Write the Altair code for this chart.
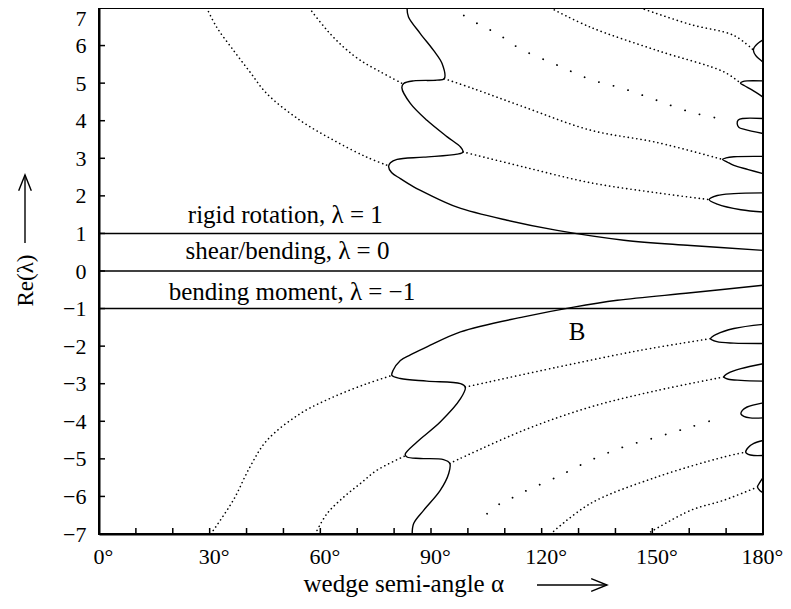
import altair as alt
import pandas as pd

FONT = "Liberation Serif"

# ---------------- axis ticks / labels ----------------
x_minor = list(range(0, 181, 10))
x_labels = [0, 30, 60, 90, 120, 150, 180]
y_ticks = list(range(-7, 8))

# ---------------- horizontal reference lines ----------------
ref_lambda = [1, 0, -1]

# ---------------- solid curves (alpha in degrees, Re(lambda)) ----------------
upper_main_a = [83.5, 83.9, 87.1, 90.7, 93.0, 93.6, 91.6, 85.3, 82.6, 82.1, 84.4, 88.9, 94.4, 98.0, 98.7,
                97.1, 88.0, 80.8, 79.0, 78.5, 79.3, 81.7, 85.3, 88.9, 97.1, 110.6, 124.2, 142.3, 160.4, 180.0]
upper_main_l = [7.0, 6.76, 6.32, 5.87, 5.52, 5.12, 5.08, 5.06, 4.99, 4.88, 4.46, 4.01, 3.57, 3.30, 3.17,
                3.11, 3.03, 2.97, 2.88, 2.78, 2.62, 2.46, 2.24, 2.06, 1.70, 1.35, 1.08, 0.82, 0.68, 0.55]

lower_main_a = [180.0, 160.4, 140.5, 128.7, 115.1, 98.0, 88.9, 84.4, 81.7, 79.7, 79.4, 81.7, 88.9, 98.0,
                99.3, 98.0, 92.5, 86.2, 83.0, 83.5, 87.1, 93.4, 95.1, 94.8, 92.5, 88.0, 85.3, 84.9]
lower_main_l = [-0.38, -0.58, -0.78, -0.96, -1.22, -1.62, -2.02, -2.23, -2.38, -2.65, -2.78, -2.86, -2.93,
                -3.00, -3.09, -3.40, -4.02, -4.55, -4.88, -4.95, -4.99, -5.02, -5.12, -5.39, -5.84, -6.37,
                -6.72, -7.0]

loop_u2_a = [180, 172.1, 167.6, 165.4, 167.6, 174.0, 180]
loop_u2_l = [2.08, 2.06, 2.01, 1.90, 1.78, 1.63, 1.57]
loop_u3_a = [180, 172.1, 170.0, 169.0, 170.3, 172.1, 176.0, 180]
loop_u3_l = [3.05, 3.04, 3.01, 2.97, 2.90, 2.81, 2.70, 2.59]
loop_u4_a = [180, 174.5, 173.3, 173.0, 173.5, 175.0, 180]
loop_u4_l = [4.06, 4.06, 4.02, 3.92, 3.82, 3.77, 3.66]
loop_u5_a = [180, 175.7, 174.5, 173.9, 175.0, 177.0, 180]
loop_u5_l = [5.06, 5.06, 5.04, 5.00, 4.93, 4.82, 4.63]
loop_u6_a = [180, 178.5, 177.6, 177.4, 178.0, 179.0, 180]
loop_u6_l = [6.15, 6.05, 5.95, 5.87, 5.74, 5.64, 5.56]

loop_l2_a = [180, 172.1, 167.5, 165.8, 167.5, 172.1, 180]
loop_l2_l = [-1.42, -1.53, -1.68, -1.80, -1.88, -1.92, -1.93]
loop_l3_a = [180, 174.0, 170.6, 169.4, 170.6, 174.0, 180]
loop_l3_l = [-2.47, -2.60, -2.72, -2.82, -2.88, -2.91, -2.93]
loop_l4_a = [180, 175.7, 174.4, 174.0, 174.8, 176.5, 180]
loop_l4_l = [-3.51, -3.62, -3.71, -3.80, -3.87, -3.91, -3.91]
loop_l5_a = [180, 177.5, 176.0, 175.3, 176.0, 177.5, 180]
loop_l5_l = [-4.51, -4.59, -4.70, -4.82, -4.88, -4.91, -4.91]
loop_l6_a = [180, 179.2, 178.5, 179.2, 180]
loop_l6_l = [-5.50, -5.62, -5.75, -5.85, -5.90]

# ---------------- dotted curves ----------------
d1_a = [29.2, 31.9, 36.4, 40.9, 45.5, 54.5, 63.6, 72.6, 78.5]
d1_l = [7.0, 6.49, 5.88, 5.30, 4.72, 4.01, 3.48, 3.03, 2.80]
d2_a = [57.0, 61.8, 66.3, 70.8, 76.3, 82.4]
d2_l = [7.0, 6.41, 5.96, 5.61, 5.30, 4.98]
d3_a = [93.6, 101.6, 115.1, 133.2, 151.3, 169.0]
d3_l = [5.12, 4.85, 4.37, 3.75, 3.42, 2.97]
d4_a = [98.7, 115.1, 133.2, 151.3, 165.4]
d4_l = [3.17, 2.77, 2.35, 2.08, 1.90]
d6_a = [122.4, 133.2, 151.3, 169.4, 173.9]
d6_l = [7.0, 6.49, 5.87, 5.30, 5.00]
d7_a = [146.8, 160.4, 172.1, 177.4]
d7_l = [7.0, 6.56, 6.27, 5.88]

e1_a = [30.3, 36.4, 40.9, 45.5, 54.5, 63.6, 72.6, 79.4]
e1_l = [-7.0, -6.10, -5.22, -4.51, -3.80, -3.35, -3.00, -2.78]
e2_a = [58.6, 61.8, 66.3, 70.8, 75.4, 83.0]
e2_l = [-7.0, -6.46, -6.02, -5.66, -5.30, -4.92]
e3_a = [99.3, 124.2, 146.8, 165.8]
e3_l = [-3.09, -2.56, -2.11, -1.80]
e4_a = [95.1, 115.1, 133.2, 151.3, 169.4]
e4_l = [-5.12, -4.24, -3.62, -3.18, -2.82]
e6_a = [122.4, 133.2, 151.3, 169.4, 175.3]
e6_l = [-7.0, -6.19, -5.48, -4.95, -4.82]
e7_a = [148.6, 160.4, 169.4, 178.5]
e7_l = [-7.0, -6.37, -6.10, -5.75]

# sparse dotted curves
s_up_a = [98.9, 103.4, 107.9, 114.1, 124.2, 133.2, 142.3, 151.3, 160.4, 168.1]
s_up_l = [6.80, 6.54, 6.32, 5.92, 5.48, 5.10, 4.85, 4.54, 4.23, 4.06]
s_lo_a = [105.2, 108.8, 112.4, 116.0, 124.2, 133.2, 142.3, 151.3, 160.4, 169.0]
s_lo_l = [-6.46, -6.19, -6.02, -5.84, -5.48, -5.04, -4.68, -4.42, -4.15, -3.89]

# ---------------- annotations ----------------
ann_text = ["rigid rotation,  λ = 1", "shear/bending,  λ = 0", "bending moment,  λ = −1", "B"]
ann_a = [50.5, 51.1, 52.3, 129.6]
ann_l = [1.28, 0.33, -0.76, -1.84]

# ---------------- build tables ----------------
rows = []


def add(name, style, A, L):
    for i, (a, l) in enumerate(zip(A, L)):
        rows.append({"curve": name, "style": style, "order": i, "alpha": a, "lam": l})


for v in ref_lambda:
    add(f"ref{v}", "solid", [0, 180], [v, v])
add("upper_main", "solid", upper_main_a, upper_main_l)
add("lower_main", "solid", lower_main_a, lower_main_l)
for nm, A, L in [("u2", loop_u2_a, loop_u2_l), ("u3", loop_u3_a, loop_u3_l), ("u4", loop_u4_a, loop_u4_l),
                 ("u5", loop_u5_a, loop_u5_l), ("u6", loop_u6_a, loop_u6_l), ("l2", loop_l2_a, loop_l2_l),
                 ("l3", loop_l3_a, loop_l3_l), ("l4", loop_l4_a, loop_l4_l), ("l5", loop_l5_a, loop_l5_l),
                 ("l6", loop_l6_a, loop_l6_l)]:
    add("loop_" + nm, "solid", A, L)
for nm, A, L in [("d1", d1_a, d1_l), ("d2", d2_a, d2_l), ("d3", d3_a, d3_l), ("d4", d4_a, d4_l),
                 ("d6", d6_a, d6_l), ("d7", d7_a, d7_l), ("e1", e1_a, e1_l), ("e2", e2_a, e2_l),
                 ("e3", e3_a, e3_l), ("e4", e4_a, e4_l), ("e6", e6_a, e6_l), ("e7", e7_a, e7_l)]:
    add(nm, "dotted", A, L)
add("s_up", "sparse", s_up_a, s_up_l)
add("s_lo", "sparse", s_lo_a, s_lo_l)

curves = pd.DataFrame(rows)
yt = pd.DataFrame({"lam": y_ticks})
xt = pd.DataFrame({"alpha": x_minor})
ann = pd.DataFrame({"alpha": ann_a, "lam": ann_l, "text": ann_text})
one = pd.DataFrame({"k": [0]})

W, H = 664, 526
TITLE_BASE = 57          # x-title baseline below the plot
ARROW_DY = TITLE_BASE - 6

x_axis = alt.Axis(values=x_labels, labelExpr="datum.value + '°'", ticks=False, grid=False,
                  domainColor="black", domainWidth=2, labelFont=FONT, labelFontSize=22,
                  labelColor="black", labelPadding=12,
                  labelOffset={"condition": {"test": "datum.value == 180", "value": -1}, "value": 4},
                  labelFlush=False, labelOverlap=False, title="wedge semi-angle   α", titleFont=FONT,
                  titleFontSize=25, titleFontWeight="normal", titleColor="black",
                  titleX=204, titleY=TITLE_BASE, titleAlign="left", titleBaseline="alphabetic")
y_axis = alt.Axis(values=y_ticks, ticks=False, grid=False, domainColor="black", domainWidth=2,
                  labelFont=FONT, labelFontSize=22, labelColor="black", labelPadding=13,
                  labelFlush=False, labelOverlap=False,
                  labelBaseline={"condition": {"test": "datum.value == 7", "value": "top"},
                                 "value": "middle"},
                  title="Re(λ)", titleFont=FONT, titleFontSize=23, titleFontWeight="normal",
                  titleColor="black", titleAngle=270, titleX=-74, titleY=272,
                  titleAlign="center", titleBaseline="middle")

xs = alt.Scale(domain=[0, 180], nice=False, zero=False)
ys = alt.Scale(domain=[-7, 7], nice=False, zero=False)


def X():
    return alt.X("alpha:Q", scale=xs, axis=x_axis)


def Y():
    return alt.Y("lam:Q", scale=ys, axis=y_axis)


base = alt.Chart(curves)

solid = base.transform_filter(alt.datum.style == "solid").mark_line(
    color="black", strokeWidth=1.4, interpolate="catmull-rom"
).encode(x=X(), y=Y(), detail="curve:N", order="order:Q")

dotted = base.transform_filter(alt.datum.style == "dotted").mark_line(
    color="black", strokeWidth=1.6, strokeDash=[0.1, 4.2], strokeCap="round", interpolate="catmull-rom"
).encode(x=X(), y=Y(), detail="curve:N", order="order:Q")

sparse = base.transform_filter(alt.datum.style == "sparse").mark_line(
    color="black", strokeWidth=1.8, strokeDash=[0.1, 15], strokeCap="round", interpolate="catmull-rom"
).encode(x=X(), y=Y(), detail="curve:N", order="order:Q")

ytick_layer = alt.Chart(yt).mark_rule(color="black", strokeWidth=1.5).encode(
    y=Y(), x=alt.value(0), x2=alt.value(6))
xtick_layer = alt.Chart(xt).mark_rule(color="black", strokeWidth=1.5).encode(
    x=X(), y=alt.value(H), y2=alt.value(H - 6))

labels = alt.Chart(ann).mark_text(font=FONT, fontSize=25, color="black", baseline="alphabetic",
                                  align="center").encode(x=X(), y=Y(), text="text:N")

# arrows beside the axis titles
xa_y = H + ARROW_DY
x_arrow = alt.Chart(one).mark_rule(color="black", strokeWidth=1.4).encode(
    x=alt.value(438), x2=alt.value(508), y=alt.value(xa_y))
x_head = alt.Chart(one).mark_point(shape="M -1 -0.4 L 0 0 L -1 0.4", filled=False, size=1000,
                                   color="black", strokeWidth=1.4, opacity=1).encode(
    x=alt.value(508), y=alt.value(xa_y))
y_arrow = alt.Chart(one).mark_rule(color="black", strokeWidth=1.4).encode(
    x=alt.value(-74), y=alt.value(235), y2=alt.value(167))
y_head = alt.Chart(one).mark_point(shape="M -0.4 1 L 0 0 L 0.4 1", filled=False, size=1000,
                                   color="black", strokeWidth=1.4, opacity=1).encode(
    x=alt.value(-74), y=alt.value(167))

chart = alt.layer(solid, dotted, sparse, ytick_layer, xtick_layer, labels,
                  x_arrow, x_head, y_arrow, y_head).properties(
    width=W, height=H,
    padding={"left": 91, "top": 0, "right": 20, "bottom": 63},
    autosize=alt.AutoSizeParams(type="none"),
    background="white",
).configure_view(stroke="black", strokeWidth=2)

chart.save("out.html", embed_options={"renderer": "svg", "actions": False})
